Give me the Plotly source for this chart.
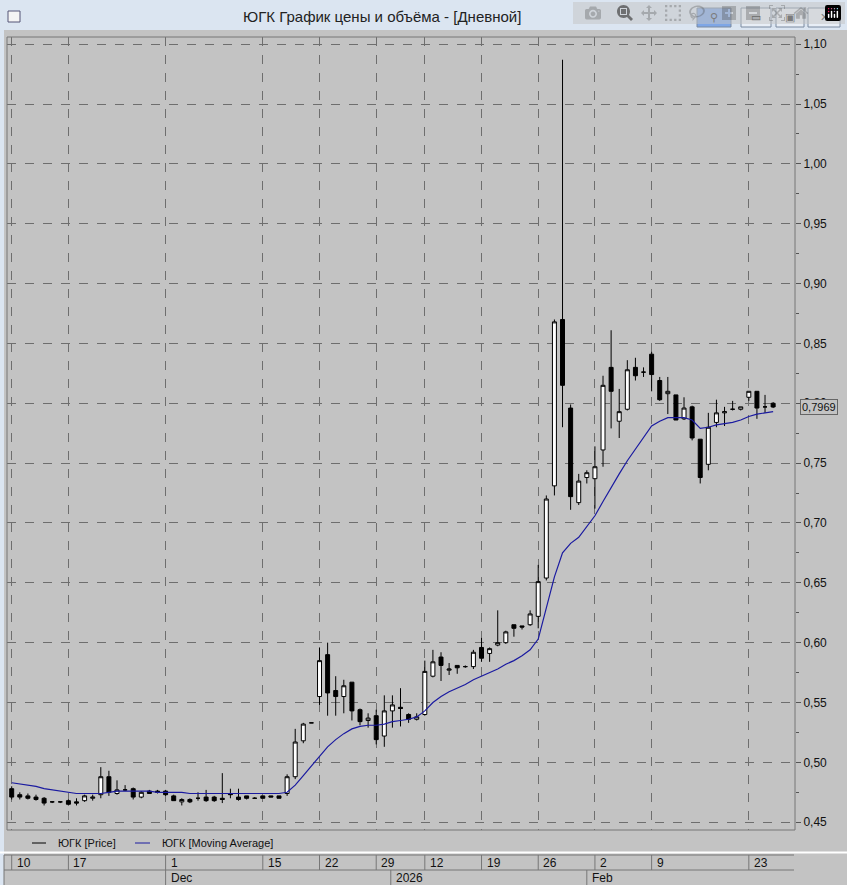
import plotly.graph_objects as go

W, H = 847, 885
opens = [.478,.473,.472,.471,.470,.467,.467,.468,.467,.468,.470,.473,.488,.474,.477,.478,.471,.476,.476,.476,
         .472,.467,.469,.470,.471,.471,.470,.474,.471,.472,.470,.472,.472,.472,.474,.488,.518,.533,.555,.590,
         .560,.555,.567,.544,.535,.539,.522,.543,.546,.540,.536,.540,.572,.588,.577,.581,.580,.580,.596,.591,
         .598,.600,.615,.614,.615,.622,.654,.731,.870,.796,.717,.738,.737,.761,.830,.785,.795,.830,.826,.841,
         .819,.808,.807,.787,.797,.770,.749,.784,.792,.795,.795,.805,.810,.797,.800]
highs = [.480,.475,.474,.473,.471,.467,.467,.469,.470,.473,.473,.496,.493,.485,.481,.479,.476,.477,.477,.477,
         .473,.470,.470,.475,.477,.472,.491,.478,.478,.472,.471,.472,.472,.472,.490,.528,.533,.533,.596,.600,
         .572,.569,.567,.545,.541,.544,.556,.556,.562,.541,.541,.585,.594,.592,.583,.581,.581,.594,.604,.596,
         .627,.610,.615,.614,.627,.665,.723,.870,1.087,.799,.741,.744,.764,.823,.861,.812,.836,.838,.830,.843,
         .822,.822,.807,.805,.798,.770,.792,.803,.797,.802,.797,.810,.810,.807,.801]
lows = [.469,.469,.469,.468,.464,.466,.466,.464,.464,.467,.468,.470,.472,.473,.476,.469,.470,.474,.474,.472,
        .468,.464,.466,.468,.467,.467,.466,.470,.468,.469,.470,.470,.471,.470,.472,.486,.516,.533,.548,.539,
        .539,.541,.535,.531,.529,.515,.513,.529,.530,.533,.535,.539,.571,.568,.573,.574,.579,.578,.584,.584,
        .597,.599,.605,.611,.614,.612,.652,.723,.780,.711,.715,.733,.712,.747,.779,.771,.794,.819,.822,.810,
        .802,.791,.786,.786,.769,.733,.744,.780,.781,.794,.794,.802,.787,.792,.796]
closes = [.471,.471,.470,.469,.466,.467,.467,.465,.466,.472,.471,.488,.475,.477,.477,.471,.475,.474,.475,.473,
          .468,.469,.467,.470,.468,.468,.469,.473,.469,.470,.470,.470,.471,.470,.488,.517,.532,.533,.585,.558,
          .555,.564,.543,.534,.537,.519,.543,.548,.545,.536,.538,.576,.584,.581,.578,.579,.580,.592,.587,.595,
          .600,.609,.612,.613,.624,.651,.720,.868,.815,.722,.735,.742,.747,.815,.810,.793,.828,.823,.826,.824,
          .803,.810,.786,.796,.771,.738,.780,.792,.793,.795,.797,.810,.796,.797,.7969]
moving_avg = [.483,.482,.481,.480,.478,.477,.476,.475,.474,.474,.474,.474,.475,.476,.476,.476,.476,.476,.475,.475,
              .475,.475,.474,.474,.474,.474,.474,.474,.474,.474,.474,.474,.474,.474,.475,.481,.489,.497,.505,.513,
              .519,.524,.528,.530,.531,.531,.532,.534,.535,.536,.538,.543,.550,.555,.559,.562,.565,.569,.572,.575,
              .578,.582,.585,.589,.594,.603,.630,.655,.675,.683,.688,.697,.706,.718,.730,.741,.752,.762,.772,.781,
              .785,.788,.788,.788,.786,.779,.780,.782,.783,.784,.786,.789,.791,.792,.793]
day_tick_pos = [0, 7, 19, 31, 38, 45, 51, 58, 65, 72, 79, 91]
day_tick_labels = ["10", "17", "1", "15", "22", "29", "12", "19", "26", "2", "9", "23"]
month_pos = [19, 46.8, 71]
month_labels = ["Dec", "2026", "Feb"]
y_ticks = [0.45, 0.50, 0.55, 0.60, 0.65, 0.70, 0.75, 0.80, 0.85, 0.90, 0.95, 1.00, 1.05, 1.10]
last_value = 0.7969

x = list(range(len(opens)))
X0, X1 = -0.58, 96.7
PL, PR, PT, PB = 7, 795, 37, 830
def px(v):
    return PL + (v - X0) / (X1 - X0) * (PR - PL)
def fx(p): return p / W
def fy(p): return 1 - p / H

fig = go.Figure()
fig.add_trace(go.Candlestick(x=x, open=opens, high=highs, low=lows, close=closes,
    increasing=dict(line=dict(color="black", width=1), fillcolor="white"),
    decreasing=dict(line=dict(color="black", width=1), fillcolor="black"),
    whiskerwidth=0, showlegend=False, hoverinfo="skip"))
fig.add_trace(go.Scatter(x=x, y=moving_avg, mode="lines", line=dict(color="#1a1aa0", width=1.2),
                         showlegend=False, hoverinfo="skip"))

shapes, ann = [], []
font = dict(family="Liberation Sans, Arial", size=12, color="#111")
def A(text, xp, yp, xanchor="center", f=None, **kw):
    ann.append(dict(text=text, x=fx(xp), y=fy(yp), xref="paper", yref="paper", xanchor=xanchor,
                    yanchor="middle", showarrow=False, font=f or font, **kw))
# title bar
shapes.append(dict(type="rect", xref="paper", yref="paper", x0=0, x1=1, y0=fy(30), y1=1,
                   fillcolor="#dbe5f1", line=dict(width=0), layer="below"))
shapes.append(dict(type="rect", xref="paper", yref="paper", x0=0, x1=fx(4), y0=0, y1=1,
                   fillcolor="#dbe5f1", line=dict(width=0), layer="below"))
A("ЮГК График цены и объёма - [Дневной]", 382, 17, f=dict(family="Liberation Sans, Arial", size=15, color="#222"))
for bx0, bx1, col in [(697, 731, "#7ea6e6"), (741, 771, "#e8eef6"), (776, 804, "#e8eef6"), (808, 840, "#e8eef6")]:
    shapes.append(dict(type="rect", xref="paper", yref="paper", x0=fx(bx0), x1=fx(bx1), y0=fy(27), y1=fy(8),
                       fillcolor=col, line=dict(color="#7a8aa0", width=1)))
for t, cx in [("⚲", 714), ("▭", 756), ("▣", 790), ("✕", 824)]:
    A(t, cx, 17, f=dict(size=11, color="#333"))
shapes.append(dict(type="rect", xref="paper", yref="paper", x0=fx(8), x1=fx(20), y0=fy(22), y1=fy(11),
                   fillcolor="#f4f4f4", line=dict(color="#557", width=1)))
# plot frame
shapes.append(dict(type="rect", xref="paper", yref="paper", x0=fx(PL), x1=fx(PR), y0=fy(PB), y1=fy(PT),
                   line=dict(color="#777", width=1)))
# legend
shapes.append(dict(type="line", xref="paper", yref="paper", x0=fx(32), x1=fx(46), y0=fy(843), y1=fy(843),
                   line=dict(color="black", width=1)))
shapes.append(dict(type="line", xref="paper", yref="paper", x0=fx(135), x1=fx(150), y0=fy(843), y1=fy(843),
                   line=dict(color="#1a1aa0", width=1)))
lf = dict(family="Liberation Sans, Arial", size=11, color="#111")
A("ЮГК [Price]", 56, 843, "left", lf)
A("ЮГК [Moving Average]", 160, 843, "left", lf)
# separator and date rows
shapes.append(dict(type="line", xref="paper", yref="paper", x0=0, x1=1, y0=fy(852.5), y1=fy(852.5),
                   line=dict(color="white", width=2)))
for yy in [855, 870]:
    shapes.append(dict(type="line", xref="paper", yref="paper", x0=fx(4), x1=fx(794), y0=fy(yy), y1=fy(yy),
                       line=dict(color="#777", width=1)))
shapes.append(dict(type="line", xref="paper", yref="paper", x0=fx(4), x1=fx(4), y0=fy(855), y1=0,
                   line=dict(color="#777", width=1)))
for p, lab in zip(day_tick_pos, day_tick_labels):
    xp = px(p)
    shapes.append(dict(type="line", xref="paper", yref="paper", x0=fx(xp), x1=fx(xp), y0=fy(855), y1=fy(870),
                       line=dict(color="#777", width=1)))
    A(lab, xp + 3, 862.5, "left")
for p, lab in zip(month_pos, month_labels):
    xp = px(p)
    shapes.append(dict(type="line", xref="paper", yref="paper", x0=fx(xp), x1=fx(xp), y0=fy(870), y1=0,
                       line=dict(color="#777", width=1)))
    A(lab, xp + 3, 878, "left")
# last value box
ann.append(dict(text=f"{last_value:.4f}".replace(".", ","), x=fx(800), xref="paper", xanchor="left",
                y=last_value, yref="y", yanchor="middle", showarrow=False,
                font=dict(family="Liberation Sans, Arial", size=11, color="#111"),
                bgcolor="#c3c3c3", bordercolor="#666", borderwidth=1, borderpad=1))

fig.update_layout(
    width=W, height=H, margin=dict(l=0, r=0, t=0, b=0),
    paper_bgcolor="#c3c3c3", plot_bgcolor="#c3c3c3", separators=", ",
    shapes=shapes, annotations=ann,
    xaxis=dict(domain=[fx(PL), fx(PR)], range=[X0, X1], tickvals=day_tick_pos, showticklabels=False,
               showgrid=True, gridcolor="#6e6e6e", griddash="dash", gridwidth=1, zeroline=False,
               rangeslider=dict(visible=False), ticks=""),
    yaxis=dict(domain=[fy(PB), fy(PT)], range=[0.4435, 1.106], side="right", tickvals=y_ticks,
               tickformat=".2f", showgrid=True, gridcolor="#6e6e6e", griddash="dash", gridwidth=1,
               zeroline=False, ticks="outside", ticklen=5, tickcolor="#555",
               tickfont=dict(family="Liberation Sans, Arial", size=12, color="#111"),
               minor=dict(dtick=0.025, ticks="outside", ticklen=3, tickcolor="#555", showgrid=False)),
)
fig.write_html("out.html", post_script="document.body.style.margin='0';document.body.style.background='#c3c3c3';")
